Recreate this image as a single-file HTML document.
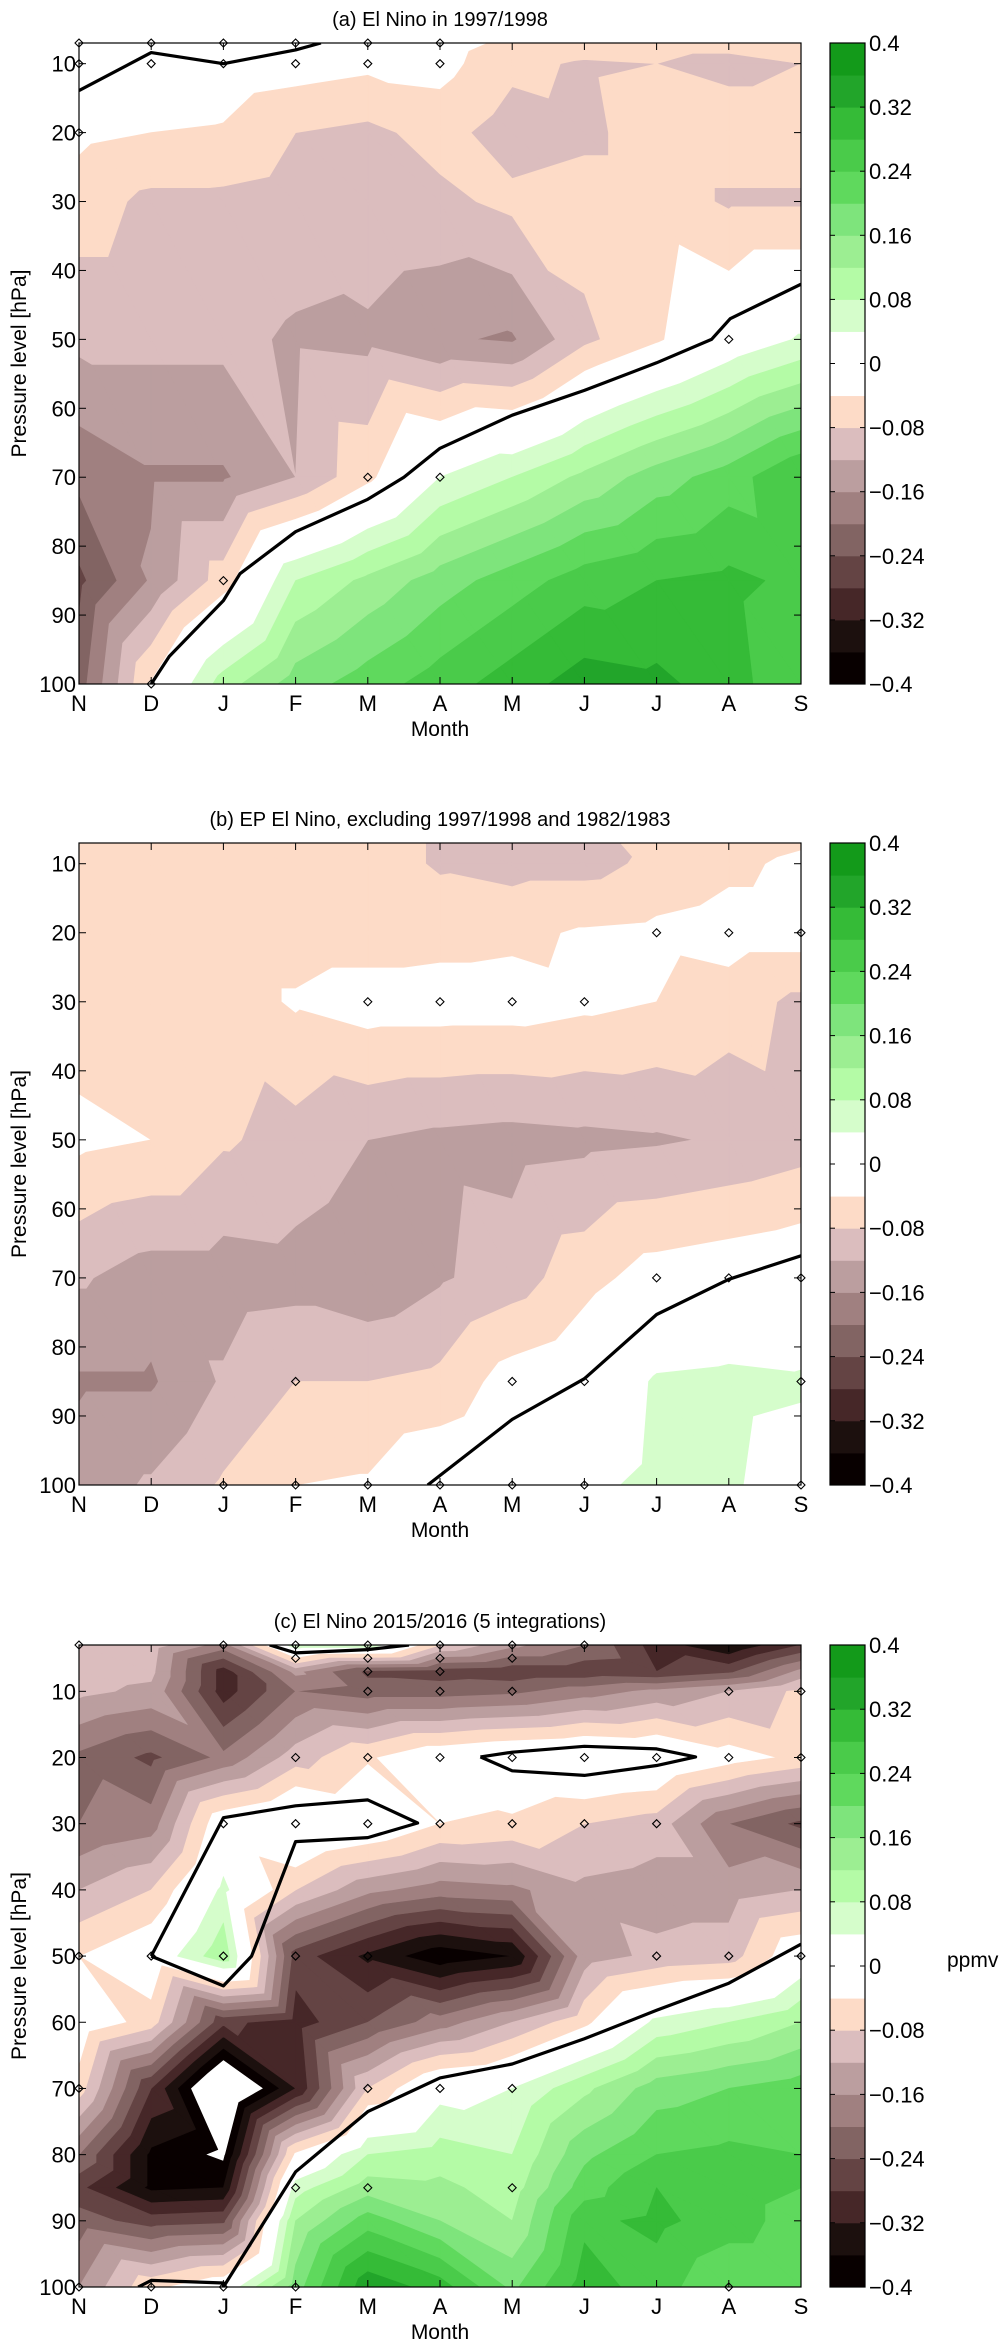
<!DOCTYPE html>
<html><head><meta charset="utf-8"><style>
html,body{margin:0;padding:0;background:#fff;}
svg{display:block;font-family:"Liberation Sans",Arial,sans-serif;}
</style></head><body>
<svg id="fig" width="1000" height="2345" viewBox="0 0 1000 2345" xmlns="http://www.w3.org/2000/svg"></svg>
<script>
// ---------- data ----------
const months = ['N','D','J','F','M','A','M','J','J','A','S'];
const bandColors = ['#080000','#1c100e','#462728','#644444','#826463','#a08080','#bb9e9f','#dbbdbe','#fddbc7','#ffffff','#ffffff','#d5fdcb','#b4fba6','#9cee92','#7ee47c','#5fd95d','#4acb4a','#35bb37','#22a52a','#139a1a'];
const cbarTicks = [0.4,0.32,0.24,0.16,0.08,0,-0.08,-0.16,-0.24,-0.32,-0.4];
const cbarTickLabels = ['0.4','0.32','0.24','0.16','0.08','0','\u22120.08','\u22120.16','\u22120.24','\u22120.32','\u22120.4'];
const yTicks = [10,20,30,40,50,60,70,80,90,100];

// panel a
const levelsA = [7,10,20,30,50,70,85,100];
const valuesA = [
 [0.02,0.02,0.01,0.0,-0.03,-0.02,-0.05,-0.06,-0.07,-0.07,-0.06],
 [0.01,0.0,-0.01,-0.02,-0.03,-0.025,-0.07,-0.085,-0.08,-0.09,-0.08],
 [-0.03,-0.04,-0.045,-0.08,-0.09,-0.065,-0.1,-0.09,-0.06,-0.06,-0.06],
 [-0.06,-0.09,-0.09,-0.1,-0.085,-0.09,-0.07,-0.06,-0.06,-0.085,-0.085],
 [-0.11,-0.11,-0.11,-0.125,-0.13,-0.155,-0.165,-0.09,-0.045,0.005,0.045],
 [-0.19,-0.165,-0.165,-0.12,-0.05,0.04,0.08,0.13,0.18,0.22,0.28],
 [-0.25,-0.155,-0.06,0.08,0.13,0.18,0.22,0.26,0.28,0.29,0.27],
 [-0.22,-0.035,0.1,0.18,0.22,0.26,0.3,0.34,0.33,0.3,0.24]
];
const linesA = [
 [[0,13.9],[1,8.4],[2,10],[3,8],[3.35,7]],
 [[1,100],[1.25,96],[2,87.9],[2.23,84],[3,77.9],[4,73.2],[4.5,70],[5,65.8],[6,61],[7,57.4],[8,53.4],[8.76,50],[9.02,47],[10,42]]
];
const marksA = [[0,7],[1,7],[2,7],[3,7],[4,7],[5,7],[0,10],[1,10],[2,10],[3,10],[4,10],[5,10],[0,20],[9,50],[4,70],[5,70],[2,85],[1,100]];

// panel b
const levelsB = [7,10,20,30,50,70,85,100];
const valuesB = [
 [-0.06,-0.06,-0.06,-0.06,-0.06,-0.085,-0.1,-0.1,-0.06,-0.06,-0.045],
 [-0.06,-0.06,-0.06,-0.06,-0.06,-0.085,-0.095,-0.095,-0.07,-0.05,-0.03],
 [-0.06,-0.06,-0.06,-0.06,-0.06,-0.055,-0.05,-0.035,-0.03,-0.02,-0.02],
 [-0.06,-0.06,-0.06,-0.035,-0.02,-0.02,-0.02,-0.03,-0.04,-0.06,-0.09],
 [-0.03,-0.04,-0.075,-0.095,-0.12,-0.13,-0.135,-0.13,-0.125,-0.115,-0.1],
 [-0.115,-0.14,-0.14,-0.135,-0.15,-0.125,-0.1,-0.055,-0.02,-0.01,0.0],
 [-0.165,-0.165,-0.115,-0.08,-0.08,-0.07,-0.02,0.0,0.045,0.05,0.045],
 [-0.14,-0.115,-0.075,-0.04,-0.035,0.0,0.02,0.03,0.05,0.045,0.02]
];
const linesB = [
 [[4.83,100],[6,90.5],[7,84.6],[8,75.3],[9,70.2],[10,66.8]]
];
const marksB = [[8,20],[9,20],[10,20],[4,30],[5,30],[6,30],[7,30],[8,70],[9,70],[10,70],[3,85],[6,85],[7,85],[10,85],[2,100],[3,100],[4,100],[5,100],[6,100],[7,100],[10,100]];

// panel c
const levelsC = [3,7,10,20,30,40,50,60,70,80,85,90,100];
const valuesC = [
 [-0.1,-0.1,-0.18,0.07,0.07,-0.08,-0.15,-0.2,-0.3,-0.36,-0.28],
 [-0.1,-0.11,-0.3,-0.15,-0.25,-0.26,-0.27,-0.27,-0.28,-0.25,-0.15],
 [-0.11,-0.13,-0.3,-0.2,-0.22,-0.22,-0.21,-0.18,-0.15,-0.12,-0.07],
 [-0.21,-0.25,-0.19,-0.1,-0.045,0.0,0.02,0.03,0.02,-0.02,-0.05],
 [-0.2,-0.18,0.0,0.04,0.01,-0.04,-0.05,-0.08,-0.1,-0.2,-0.25],
 [-0.12,-0.08,0.05,-0.08,-0.15,-0.18,-0.17,-0.13,-0.14,-0.14,-0.12],
 [-0.04,0.0,0.11,-0.26,-0.33,-0.39,-0.36,-0.14,-0.11,-0.1,0.0],
 [0.0,-0.06,-0.27,-0.3,-0.24,-0.18,-0.12,-0.05,0.05,0.08,0.12],
 [-0.06,-0.28,-0.5,-0.32,-0.08,0.02,0.04,0.11,0.18,0.2,0.22],
 [-0.2,-0.37,-0.41,-0.03,0.08,0.1,0.08,0.19,0.24,0.25,0.24],
 [-0.27,-0.37,-0.36,0.06,0.14,0.13,0.1,0.22,0.28,0.26,0.24],
 [-0.22,-0.26,-0.25,0.12,0.22,0.16,0.12,0.27,0.29,0.26,0.22],
 [-0.16,-0.05,0.0,0.18,0.35,0.3,0.19,0.3,0.26,0.2,0.2]
];
const linesC = [
 [[1,50],[2,54.5],[2.39,50],[3,32.7],[4,32.1],[4.69,29.9],[4,26.4],[3,27.3],[2,29.1],[1,50]],
 [[5.56,19.9],[6,19.2],[7,18.3],[8,18.7],[8.54,19.9],[8,21.2],[7,22.7],[6,22],[5.56,19.9]],
 [[2.64,3],[3,4.2],[4,3.7],[4.57,3]],
 [[2,100],[3,82.6],[4,73.5],[5,68.4],[6,66.3],[7,62.5],[8,58.2],[9,54.1],[10,48.2]],
 [[0.82,100],[1,99],[2,99.4],[2,100]]
];
const marksC = [[0,3],[2,3],[3,3],[4,3],[5,3],[6,3],[7,3],[3,5],[4,5],[5,5],[6,5],[4,7],[5,7],
 [4,10],[5,10],[6,10],[9,10],[10,10],[3,20],[4,20],[5,20],[6,20],[7,20],[8,20],[9,20],[10,20],
 [2,30],[3,30],[4,30],[5,30],[6,30],[7,30],[8,30],[0,50],[1,50],[2,50],[3,50],[4,50],[8,50],[9,50],[10,50],
 [0,70],[4,70],[5,70],[6,70],[3,85],[4,85],[6,85],[0,100],[1,100],[2,100],[3,100],[9,100]];

// ---------- rendering ----------
const NS='http://www.w3.org/2000/svg';
const svg=document.getElementById('fig');
function mk(tag,attrs,parent){const e=document.createElementNS(NS,tag);for(const k in attrs)e.setAttribute(k,attrs[k]);(parent||svg).appendChild(e);return e;}

function clipPoly(poly,val,keepAbove){
  const out=[];
  for(let i=0;i<poly.length;i++){
    const a=poly[i],b=poly[(i+1)%poly.length];
    const ina=keepAbove?a[2]>=val:a[2]<=val, inb=keepAbove?b[2]>=val:b[2]<=val;
    if(ina)out.push(a);
    if(ina!==inb){const t=(val-a[2])/(b[2]-a[2]);out.push([a[0]+t*(b[0]-a[0]),a[1]+t*(b[1]-a[1]),val]);}
  }
  return out;
}

function drawPanel(cfg){
  const {x0,x1,y0,y1,pTop,levels,values,lines,marks,title,id}=cfg;
  const X=m=>x0+m*(x1-x0)/10;
  const Y=p=>y0+(p-pTop)/(100-pTop)*(y1-y0);
  const g=mk('g',{});
  
  
  const cp=mk('clipPath',{id:'clip'+id},g);
  mk('rect',{x:x0,y:y0,width:x1-x0,height:y1-y0},cp);
  const plot=mk('g',{'clip-path':'url(#clip'+id+')'},g);
  
  
  const paths=bandColors.map(()=> '');
  for(let r=0;r<levels.length-1;r++){
    for(let c=0;c<months.length-1;c++){
      const P=(rr,cc)=>[X(cc),Y(levels[rr]),values[rr][cc]];
      const a=P(r,c),b=P(r,c+1),d=P(r+1,c+1),e=P(r+1,c);
      for(const tri of [[a,b,d],[a,d,e]]){
        for(let k=0;k<bandColors.length;k++){
          if(k===9||k===10)continue;
          const lo=-0.4+0.04*k,hi=lo+0.04;
          let pl=clipPoly(tri,lo,true);
          if(pl.length<3)continue;
          pl=clipPoly(pl,hi,false);
          if(pl.length<3)continue;
          paths[k]+='M'+pl.map(q=>q[0].toFixed(1)+','+q[1].toFixed(1)).join('L')+'Z';
        }
      }
    }
  }
  paths.forEach((dstr,k)=>{ if(!dstr)return;
    const p=mk('path',{d:dstr,fill:bandColors[k],stroke:bandColors[k],'stroke-width':0.7,'stroke-linejoin':'round'},plot);
    
    
  });
  lines.forEach((ln,i)=>{
    const p=mk('polyline',{points:ln.map(q=>X(q[0]).toFixed(1)+','+Y(q[1]).toFixed(1)).join(' '),fill:'none',stroke:'#000','stroke-width':3.2,'stroke-linejoin':'round'},plot);
    
    
  });
  marks.forEach(q=>{
    const cx=X(q[0]),cy=Y(q[1]);
    const p=mk('path',{d:`M${cx-4},${cy}L${cx},${cy-4}L${cx+4},${cy}L${cx},${cy+4}Z`,fill:'none',stroke:'#000','stroke-width':1.1},g);
    
    
  });
  const fr=mk('rect',{x:x0,y:y0,width:x1-x0,height:y1-y0,fill:'none',stroke:'#000','stroke-width':1.2},g);
  
  
  months.forEach((m,i)=>{
    const x=X(i);
    mk('line',{x1:x,y1:y1,x2:x,y2:y1-7,stroke:'#000','stroke-width':1},g);
    mk('line',{x1:x,y1:y0,x2:x,y2:y0+7,stroke:'#000','stroke-width':1},g);
    const t=mk('text',{x:x,y:y1+27,'text-anchor':'middle','font-size':22},g);
    t.textContent=m;
    
    
  });
  yTicks.forEach(v=>{
    const y=Y(v);
    mk('line',{x1:x0,y1:y,x2:x0+7,y2:y,stroke:'#000','stroke-width':1},g);
    mk('line',{x1:x1,y1:y,x2:x1-7,y2:y,stroke:'#000','stroke-width':1},g);
    const t=mk('text',{x:x0-3,y:y+8,'text-anchor':'end','font-size':22},g);
    t.textContent=v;
    
    
  });
  const tt=mk('text',{x:(x0+x1)/2,y:y0-17,'text-anchor':'middle','font-size':20},g);
  tt.textContent=title;
  
  
  const xl=mk('text',{x:(x0+x1)/2,y:y1+52,'text-anchor':'middle','font-size':21},g);
  xl.textContent='Month';
  
  
  const yl=mk('text',{x:0,y:0,'text-anchor':'middle','font-size':21,transform:`translate(26,${(y0+y1)/2}) rotate(-90)`},g);
  yl.textContent='Pressure level [hPa]';
  
  
  const cx0=830,cw=35;
  const cb=mk('g',{},g);
  
  
  const bh=(y1-y0)/bandColors.length;
  bandColors.forEach((col,k)=>{
    const yy=y1-(k+1)*bh;
    const r=mk('rect',{x:cx0,y:yy,width:cw,height:bh+0.5,fill:col},cb);
    
    
  });
  mk('rect',{x:cx0,y:y0,width:cw,height:y1-y0,fill:'none',stroke:'#000','stroke-width':1.2},cb);
  cbarTicks.forEach((v,i)=>{
    const yy=y1-(v+0.4)/0.8*(y1-y0);
    mk('line',{x1:cx0,y1:yy,x2:cx0+5,y2:yy,stroke:'#000','stroke-width':1},cb);
    mk('line',{x1:cx0+cw,y1:yy,x2:cx0+cw-5,y2:yy,stroke:'#000','stroke-width':1},cb);
    const t=mk('text',{x:cx0+cw+4,y:yy+8,'font-size':22},cb);
    t.textContent=cbarTickLabels[i];
    
    
  });
}

drawPanel({id:'a',x0:79,x1:801,y0:43,y1:684,pTop:7,levels:levelsA,values:valuesA,lines:linesA,marks:marksA,title:'(a) El Nino in 1997/1998'});
drawPanel({id:'b',x0:79,x1:801,y0:843,y1:1485,pTop:7,levels:levelsB,values:valuesB,lines:linesB,marks:marksB,title:'(b) EP El Nino, excluding 1997/1998 and 1982/1983'});
drawPanel({id:'c',x0:79,x1:801,y0:1645,y1:2287,pTop:3,levels:levelsC,values:valuesC,lines:linesC,marks:marksC,title:'(c) El Nino 2015/2016 (5 integrations)'});

const unit=mk('text',{x:947,y:1967,'font-size':21});
unit.textContent='ppmv';


</script>
</body></html>
